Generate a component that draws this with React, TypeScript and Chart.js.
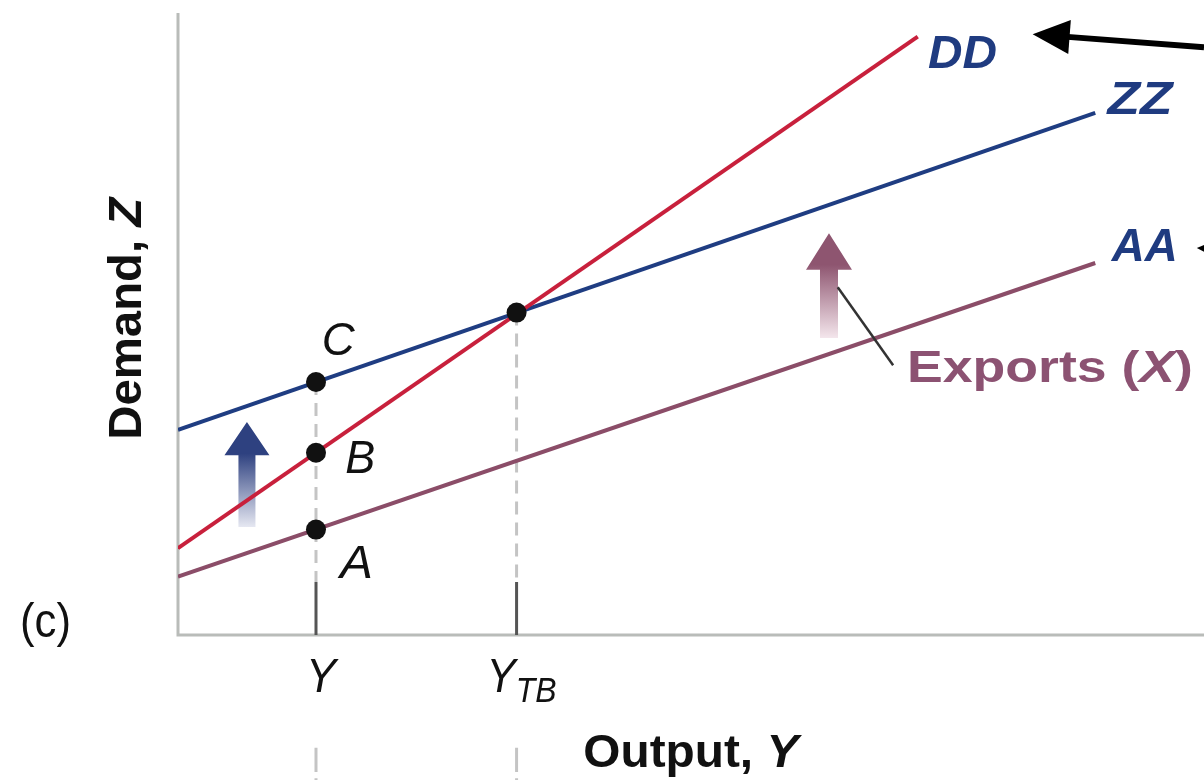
import { useEffect, useRef } from "react";
import { Chart, registerables } from "chart.js";
Chart.register(...registerables);

// ---- data (diagram units: x 0..100 output, y 0..100 demand) ----
const lineEndsX = [0, 89.4];
const ddEndsX = [0, 72.1];
const aaValues = [9.4, 60.0];
const ddValues = [14.0, 96.5];
const zzValues = [33.1, 84.2];
const curveLabels = ["DD", "ZZ", "AA"];
const outputY = 13.45;
const outputYTB = 33.0;
const pointLabels = ["C", "B", "A", ""];
const pointX = [13.45, 13.45, 13.45, 33.0];
const pointY = [40.8, 29.4, 17.0, 52.0];
const tickLabels = ["Y", "TB"];
const guideFoot = 8.55;
const belowDash1 = [-18.2, -22.1];
const belowDash2 = [-23.1, -26];

const NAVY = "#1f3b80";
const RED = "#c8203c";
const BLUE = "#1f3d82";
const MAUVE = "#8b4d68";
const MAUVE_TEXT = "#8c5272";
const FONT = "'Liberation Sans', Arial, sans-serif";

type Run = { text: string; font: string; dy?: number };

function drawRuns(
  ctx: CanvasRenderingContext2D,
  runs: Run[],
  x: number,
  y: number,
  target: number | null,
  color: string,
  align: "left" | "center" = "left",
  rotate = 0
) {
  let total = 0;
  for (const r of runs) {
    ctx.font = r.font;
    total += ctx.measureText(r.text).width;
  }
  const sx = target ? target / total : 1;
  ctx.save();
  ctx.translate(x, y);
  if (rotate) ctx.rotate(rotate);
  ctx.scale(sx, 1);
  ctx.fillStyle = color;
  ctx.textBaseline = "alphabetic";
  ctx.textAlign = "left";
  let cx = align === "center" ? -total / 2 : 0;
  for (const r of runs) {
    ctx.font = r.font;
    ctx.fillText(r.text, cx, r.dy || 0);
    cx += ctx.measureText(r.text).width;
  }
  ctx.restore();
}

function blockArrow(
  ctx: CanvasRenderingContext2D,
  cx: number,
  tipY: number,
  baseY: number,
  bottomY: number,
  hw: number,
  sw: number,
  dark: string,
  light: string
) {
  const g = ctx.createLinearGradient(0, tipY, 0, bottomY);
  g.addColorStop(0, dark);
  g.addColorStop(0.3, dark);
  g.addColorStop(1, light);
  ctx.save();
  ctx.fillStyle = g;
  ctx.beginPath();
  ctx.moveTo(cx, tipY);
  ctx.lineTo(cx + hw, baseY);
  ctx.lineTo(cx + sw, baseY);
  ctx.lineTo(cx + sw, bottomY);
  ctx.lineTo(cx - sw, bottomY);
  ctx.lineTo(cx - sw, baseY);
  ctx.lineTo(cx - hw, baseY);
  ctx.closePath();
  ctx.fill();
  ctx.restore();
}

function lineArrow(
  ctx: CanvasRenderingContext2D,
  x0: number,
  y0: number,
  x1: number,
  y1: number,
  width: number,
  headLen: number,
  headHalf: number,
  color: string
) {
  const ang = Math.atan2(y1 - y0, x1 - x0);
  const bx = x1 - Math.cos(ang) * headLen;
  const by = y1 - Math.sin(ang) * headLen;
  ctx.save();
  ctx.strokeStyle = color;
  ctx.fillStyle = color;
  ctx.lineWidth = width;
  ctx.beginPath();
  ctx.moveTo(x0, y0);
  ctx.lineTo(bx + Math.cos(ang) * 2, by + Math.sin(ang) * 2);
  ctx.stroke();
  const nx = -Math.sin(ang);
  const ny = Math.cos(ang);
  ctx.beginPath();
  ctx.moveTo(x1, y1);
  ctx.lineTo(bx + nx * headHalf, by + ny * headHalf);
  ctx.lineTo(bx - nx * headHalf, by - ny * headHalf);
  ctx.closePath();
  ctx.fill();
  ctx.restore();
}

const diagramPlugin = {
  id: "diagram",
  beforeDatasetsDraw(chart: any) {
    const { ctx, chartArea: a, scales } = chart;
    const X = (v: number) => scales.x.getPixelForValue(v);
    const Yp = (v: number) => scales.y.getPixelForValue(v);
    ctx.save();
    ctx.strokeStyle = "#b9bcb9";
    ctx.lineWidth = 3;
    ctx.beginPath();
    ctx.moveTo(a.left, a.top - 2);
    ctx.lineTo(a.left, a.bottom);
    ctx.lineTo(a.right, a.bottom);
    ctx.stroke();
    ctx.restore();
    blockArrow(ctx, X(6.72), Yp(34.35), Yp(29.0), Yp(17.4), 22.5, 8.5, "#2e4180", "#e6e8f2");
    blockArrow(ctx, X(63.45), Yp(64.8), Yp(58.9), Yp(47.9), 23, 9, "#8e5570", "#f4e6ec");
  },
  afterDatasetsDraw(chart: any) {
    const { ctx, scales } = chart;
    const X = (v: number) => scales.x.getPixelForValue(v);
    const Yp = (v: number) => scales.y.getPixelForValue(v);

    // leader line for Exports
    ctx.save();
    ctx.strokeStyle = "#333";
    ctx.lineWidth = 2.5;
    ctx.beginPath();
    ctx.moveTo(X(64.3), Yp(56.1));
    ctx.lineTo(X(69.7), Yp(43.5));
    ctx.stroke();
    ctx.restore();

    // black pointer arrows
    lineArrow(ctx, X(100), Yp(94.8), X(83.3), Yp(96.9), 6, 37, 17, "#000");
    lineArrow(ctx, X(103), Yp(62.2), X(99.3), Yp(62.4), 3, 30, 14, "#000");

    // curve labels
    const bi = (s: number) => `italic bold ${s}px ${FONT}`;
    const it = (s: number) => `italic ${s}px ${FONT}`;
    const b = (s: number) => `bold ${s}px ${FONT}`;
    drawRuns(ctx, [{ text: curveLabels[0], font: bi(46) }], X(73.1), Yp(91.45), 69, NAVY);
    drawRuns(ctx, [{ text: curveLabels[1], font: bi(47) }], X(90.6), Yp(84.0), 65, NAVY);
    drawRuns(ctx, [{ text: curveLabels[2], font: bi(46) }], X(91.0), Yp(60.3), 66, NAVY);

    // point labels
    drawRuns(ctx, [{ text: pointLabels[0], font: it(46) }], X(14.0), Yp(45.2), 33, "#111");
    drawRuns(ctx, [{ text: pointLabels[1], font: it(46) }], X(16.3), Yp(26.1), 30, "#111");
    drawRuns(ctx, [{ text: pointLabels[2], font: it(46) }], X(15.8), Yp(9.2), 33, "#111");

    // Exports (X)
    drawRuns(
      ctx,
      [
        { text: "Exports (", font: b(44) },
        { text: "X", font: bi(44) },
        { text: ")", font: b(44) },
      ],
      X(71.05),
      Yp(40.8),
      286,
      MAUVE_TEXT
    );

    // tick labels
    drawRuns(ctx, [{ text: tickLabels[0], font: it(48) }], X(outputY) - 10, Yp(-9.2), 30, "#111");
    drawRuns(
      ctx,
      [
        { text: tickLabels[0], font: it(48) },
        { text: tickLabels[1], font: it(35), dy: 10 },
      ],
      X(outputYTB) - 30,
      Yp(-9.2),
      70,
      "#111"
    );

    // axis titles
    drawRuns(
      ctx,
      [
        { text: "Output, ", font: b(47) },
        { text: "Y", font: bi(47) },
      ],
      X(39.5),
      Yp(-21.3),
      215,
      "#111"
    );
    drawRuns(
      ctx,
      [
        { text: "Demand, ", font: b(47) },
        { text: "Z", font: bi(47) },
      ],
      X(-3.6),
      Yp(51.0),
      242,
      "#111",
      "center",
      -Math.PI / 2
    );
    drawRuns(ctx, [{ text: "(c)", font: `${48}px ${FONT}` }], X(-15.4), Yp(-0.3), 51, "#111");
  },
};

function seg(x: number, y0: number, y1: number) {
  return [
    { x, y: y0 },
    { x, y: y1 },
  ];
}

export default function App() {
  const ref = useRef<HTMLCanvasElement | null>(null);
  useEffect(() => {
    if (!ref.current) return;
    const guideStyle = { borderColor: "#c4c4c4", borderWidth: 3, borderDash: [13, 8], pointRadius: 0, clip: false as any };
    const tickStyle = { borderColor: "#555", borderWidth: 3, pointRadius: 0, clip: false as any };
    const below = { borderColor: "#c4c4c4", borderWidth: 3, pointRadius: 0, clip: false as any };
    const chart = new Chart(ref.current, {
      type: "line",
      data: {
        datasets: [
          {
            type: "scatter",
            label: "points",
            data: pointX.map((x, i) => ({ x, y: pointY[i] })),
            pointRadius: 10,
            pointBackgroundColor: "#111",
            pointBorderWidth: 0,
            order: 0,
          } as any,
          {
            label: curveLabels[0],
            data: ddEndsX.map((x, i) => ({ x, y: ddValues[i] })),
            borderColor: RED,
            borderWidth: 4,
            pointRadius: 0,
            order: 1,
          },
          {
            label: curveLabels[1],
            data: lineEndsX.map((x, i) => ({ x, y: zzValues[i] })),
            borderColor: BLUE,
            borderWidth: 4,
            pointRadius: 0,
            order: 2,
          },
          {
            label: curveLabels[2],
            data: lineEndsX.map((x, i) => ({ x, y: aaValues[i] })),
            borderColor: MAUVE,
            borderWidth: 4,
            pointRadius: 0,
            order: 3,
          },
          { label: "gY", data: seg(outputY, pointY[0], guideFoot), ...guideStyle, order: 5 },
          { label: "gYTB", data: seg(outputYTB, pointY[3], guideFoot), ...guideStyle, order: 5 },
          { label: "tY", data: seg(outputY, guideFoot, 0), ...tickStyle, order: 5 },
          { label: "tYTB", data: seg(outputYTB, guideFoot, 0), ...tickStyle, order: 5 },
          { label: "b1", data: seg(outputY, belowDash1[0], belowDash1[1]), ...below, order: 5 },
          { label: "b2", data: seg(outputY, belowDash2[0], belowDash2[1]), ...below, order: 5 },
          { label: "b3", data: seg(outputYTB, belowDash1[0], belowDash1[1]), ...below, order: 5 },
          { label: "b4", data: seg(outputYTB, belowDash2[0], belowDash2[1]), ...below, order: 5 },
        ] as any,
      },
      options: {
        animation: false,
        responsive: false,
        maintainAspectRatio: false,
        devicePixelRatio: 1,
        layout: { autoPadding: false, padding: { left: 178, right: 0, top: 15, bottom: 145 } },
        plugins: { legend: { display: false }, tooltip: { enabled: false } },
        elements: { line: { tension: 0 } },
        scales: {
          x: { type: "linear", min: 0, max: 100, display: false },
          y: { type: "linear", min: 0, max: 100, display: false },
        },
      },
      plugins: [diagramPlugin],
    });
    return () => chart.destroy();
  }, []);
  return (
    <div style={{ position: "absolute", left: 0, top: 0, width: 1204, height: 780, background: "#fff" }}>
      <canvas ref={ref} width={1204} height={780} style={{ display: "block" }} />
    </div>
  );
}
